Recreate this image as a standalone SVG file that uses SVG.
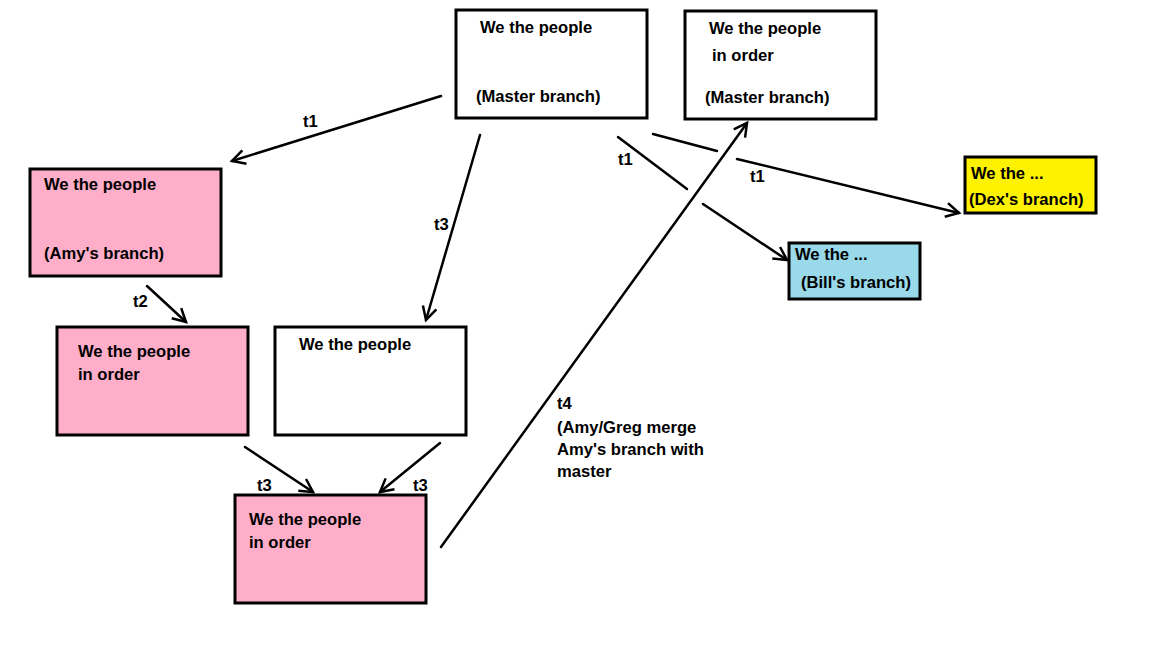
<svg xmlns="http://www.w3.org/2000/svg" width="1152" height="648" viewBox="0 0 1152 648">
<style>
.box{stroke:#000;stroke-width:3}
.t{font-family:"Liberation Sans",Arial,sans-serif;font-weight:bold;font-size:16.6px;fill:#000}
.c{stroke:#000;stroke-width:2.5;fill:none;stroke-linecap:round}
</style>
<defs>
<marker id="ah" markerUnits="userSpaceOnUse" viewBox="-14 -10 16 20" refX="0" refY="0" markerWidth="16" markerHeight="20" orient="auto" overflow="visible">
<path d="M-13,-7 L0,0 L-13,7" fill="none" stroke="#000" stroke-width="2.5"/>
</marker>
</defs>
<rect width="1152" height="648" fill="#fff"/>
<g id="connectors">
<line class="c" x1="441" y1="96" x2="232" y2="161" marker-end="url(#ah)"/>
<line class="c" x1="480" y1="135" x2="426" y2="320" marker-end="url(#ah)"/>
<line class="c" x1="147" y1="286" x2="186" y2="322" marker-end="url(#ah)"/>
<line class="c" x1="245" y1="447" x2="313" y2="492" marker-end="url(#ah)"/>
<line class="c" x1="440" y1="443" x2="380" y2="492" marker-end="url(#ah)"/>
<line class="c" x1="441" y1="547" x2="747" y2="123" marker-end="url(#ah)"/>
<line class="c" x1="618" y1="137" x2="687" y2="189"/>
<line class="c" x1="703" y1="204" x2="787" y2="260" marker-end="url(#ah)"/>
<line class="c" x1="653" y1="134" x2="717" y2="151"/>
<line class="c" x1="737" y1="159" x2="959" y2="213" marker-end="url(#ah)"/>
<text class="t" x="303" y="127">t1</text>
<text class="t" x="434" y="230">t3</text>
<text class="t" x="133" y="307">t2</text>
<text class="t" x="257" y="491">t3</text>
<text class="t" x="413" y="491">t3</text>
<text class="t" x="618" y="165">t1</text>
<text class="t" x="750" y="182">t1</text>
<text class="t" x="557" y="409">t4</text>
<text class="t" x="557" y="433">(Amy/Greg merge</text>
<text class="t" x="557" y="455">Amy's branch with</text>
<text class="t" x="557" y="477">master</text>
</g>
<g id="master1">
<rect class="box" x="456" y="10" width="191" height="108" fill="#fff"/>
<text class="t" x="480" y="33">We the people</text>
<text class="t" x="476" y="102">(Master branch)</text>
</g>
<g id="master2">
<rect class="box" x="685" y="11" width="191" height="108" fill="#fff"/>
<text class="t" x="709" y="34">We the people</text>
<text class="t" x="712" y="61">in order</text>
<text class="t" x="705" y="103">(Master branch)</text>
</g>
<g id="amy">
<rect class="box" x="30" y="169" width="191" height="107" fill="#ffaec9"/>
<text class="t" x="44" y="190">We the people</text>
<text class="t" x="44" y="259">(Amy's branch)</text>
</g>
<g id="amy2">
<rect class="box" x="57" y="327" width="191" height="108" fill="#ffaec9"/>
<text class="t" x="78" y="357">We the people</text>
<text class="t" x="78" y="380">in order</text>
</g>
<g id="master3">
<rect class="box" x="275" y="327" width="191" height="108" fill="#fff"/>
<text class="t" x="299" y="350">We the people</text>
</g>
<g id="merged">
<rect class="box" x="235" y="495" width="191" height="108" fill="#ffaec9"/>
<text class="t" x="249" y="525">We the people</text>
<text class="t" x="249" y="548">in order</text>
</g>
<g id="dex">
<rect class="box" x="965" y="157" width="131" height="56" fill="#fff200"/>
<text class="t" x="971" y="179">We the ...</text>
<text class="t" x="969" y="205">(Dex's branch)</text>
</g>
<g id="bill">
<rect class="box" x="789" y="243" width="131" height="56" fill="#99d9ea"/>
<text class="t" x="795" y="260">We the ...</text>
<text class="t" x="801" y="288">(Bill's branch)</text>
</g>
</svg>
